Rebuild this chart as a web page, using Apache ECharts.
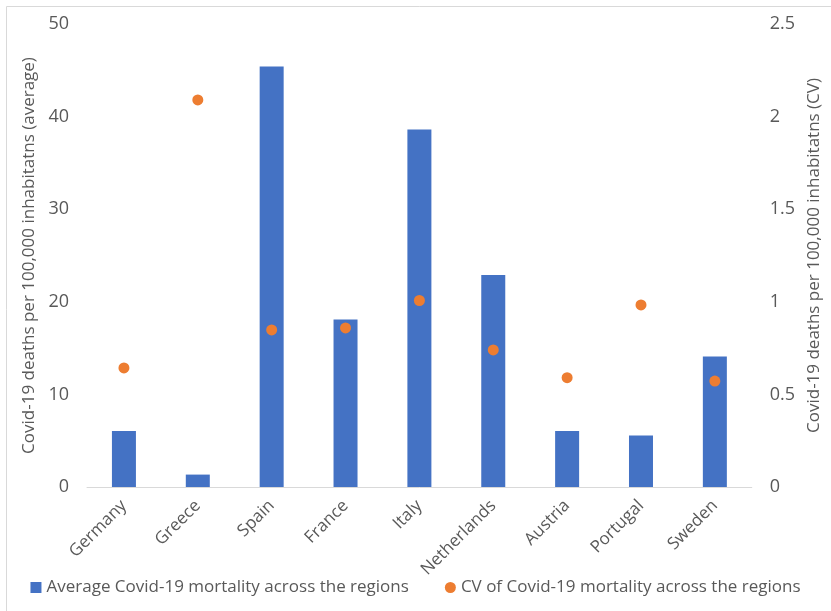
<!DOCTYPE html>
<html>
<head>
<meta charset="utf-8">
<script src="https://cdn.jsdelivr.net/npm/echarts@6/dist/echarts.min.js"></script>
<style>
  html, body { margin: 0; padding: 0; background: #fff; }
  #chart { width: 831px; height: 611px; }
</style>
</head>
<body>
<div id="chart"></div>
<script>
const countries = ['Germany', 'Greece', 'Spain', 'France', 'Italy', 'Netherlands', 'Austria', 'Portugal', 'Sweden']
const avgMortality = [6.05, 1.34, 45.4, 18.1, 38.6, 22.9, 6.05, 5.55, 14.1]
const cvMortality = [0.643, 2.09, 0.848, 0.859, 1.007, 0.74, 0.59, 0.983, 0.572]

const font = 'Open Sans'
const textColor = '#595959'

const chart = echarts.init(document.getElementById('chart'))

chart.setOption({
  animation: false,
  textStyle: { fontFamily: font },
  graphic: [
    {
      type: 'rect',
      shape: { x: 6.5, y: 6.5, width: 900, height: 700 },
      style: { fill: 'none', stroke: '#d9d9d9', lineWidth: 1 },
      silent: true,
    },
  ],
  grid: {
    left: 87,
    right: 75,
    top: 24,
    bottom: 124,
  },
  legend: {
    bottom: 10,
    left: 'center',
    itemGap: 36,
    itemWidth: 11,
    itemHeight: 11,
    textStyle: { color: textColor, fontSize: 17, fontFamily: font },
    data: [
      { name: 'Average Covid-19 mortality across the regions', icon: 'rect' },
      { name: 'CV of Covid-19 mortality across the regions', icon: 'circle' },
    ],
  },
  xAxis: {
    type: 'category',
    data: countries,
    axisLine: { lineStyle: { color: '#d9d9d9' } },
    axisTick: { show: false },
    axisLabel: {
      rotate: 45,
      color: textColor,
      fontSize: 17,
      margin: 16,
      interval: 0,
    },
  },
  yAxis: [
    {
      type: 'value',
      min: 0,
      max: 50,
      interval: 10,
      name: 'Covid-19 deaths per 100,000 inhabitatns (average)',
      nameLocation: 'middle',
      nameGap: 45,
      nameTextStyle: { color: textColor, fontSize: 17 },
      splitLine: { show: false },
      axisLine: { show: false },
      axisTick: { show: false },
      axisLabel: { color: textColor, fontSize: 18, margin: 18 },
    },
    {
      type: 'value',
      min: 0,
      max: 2.5,
      interval: 0.5,
      name: 'Covid-19 deaths per 100,000 inhabitatns (CV)',
      nameLocation: 'middle',
      nameGap: 52,
      nameRotate: 90,
      nameTextStyle: { color: textColor, fontSize: 17 },
      splitLine: { show: false },
      axisLine: { show: false },
      axisTick: { show: false },
      axisLabel: { color: textColor, fontSize: 18, margin: 18 },
    },
  ],
  series: [
    {
      name: 'Average Covid-19 mortality across the regions',
      type: 'bar',
      data: avgMortality,
      barWidth: 24,
      itemStyle: { color: '#4472C4' },
    },
    {
      name: 'CV of Covid-19 mortality across the regions',
      type: 'scatter',
      yAxisIndex: 1,
      data: cvMortality,
      symbolSize: 11,
      itemStyle: { color: '#ED7D31', opacity: 1 },
    },
  ],
})
</script>
</body>
</html>
